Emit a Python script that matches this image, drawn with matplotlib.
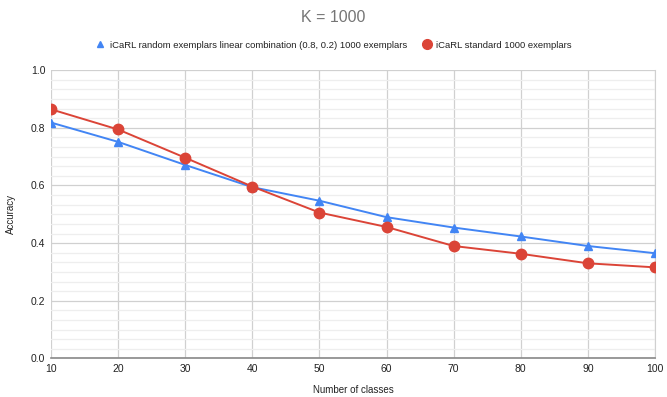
import matplotlib
matplotlib.use("Agg")
import matplotlib.pyplot as plt
from matplotlib.lines import Line2D
from matplotlib.ticker import MultipleLocator
import numpy as np

plt.rcParams['font.family'] = ['Liberation Sans', 'DejaVu Sans']

# Data
classes = [10, 20, 30, 40, 50, 60, 70, 80, 90, 100]
acc_random_lc = [0.818, 0.751, 0.671, 0.594, 0.547, 0.490, 0.454, 0.423, 0.390, 0.365]
acc_standard = [0.864, 0.794, 0.696, 0.596, 0.506, 0.456, 0.390, 0.363, 0.330, 0.316]

label_random = "iCaRL random exemplars linear combination (0.8, 0.2) 1000 exemplars"
label_standard = "iCaRL standard 1000 exemplars"

BLUE = "#4285F4"
RED = "#DB4437"

fig = plt.figure(figsize=(6.67, 3.97), dpi=100)
ax = fig.add_axes([0.0765, 0.097, 0.9055, 0.7265])

ax.plot(classes, acc_random_lc, color=BLUE, lw=1.4, marker='^', ms=5.5, zorder=3)
ax.plot(classes, acc_standard, color=RED, lw=1.4, marker='o', ms=7.5, zorder=4)

ax.set_xlim(10, 100)
ax.set_ylim(0, 1.0)
ax.xaxis.set_major_locator(MultipleLocator(10))
ax.yaxis.set_major_locator(MultipleLocator(0.2))
ax.yaxis.set_minor_locator(MultipleLocator(0.2 / 6))
ax.yaxis.set_major_formatter(matplotlib.ticker.FormatStrFormatter('%.1f'))

ax.grid(True, which='major', color='#d0d0d0', lw=0.9)
ax.grid(True, which='minor', axis='y', color='#eeeeee', lw=0.9)
ax.set_axisbelow(True)
for side in ['top', 'left']:
    ax.spines[side].set_visible(False)
ax.spines['right'].set_color('#d0d0d0')
ax.spines['bottom'].set_color('#888888')
ax.spines['bottom'].set_linewidth(1.2)
ax.tick_params(which='both', length=0, labelsize=7.5, colors='#222222', pad=4)

ax.set_xlabel("Number of classes", fontsize=7, color='#222222', labelpad=8)
ax.set_ylabel("Accuracy", fontsize=7, color='#222222', labelpad=11)

fig.text(0.5, 0.955, "K = 1000", ha='center', va='center', fontsize=11.5, color='#757575')

handles = [
    Line2D([], [], ls='none', marker='^', color=BLUE, ms=5),
    Line2D([], [], ls='none', marker='o', color=RED, ms=7),
]
fig.legend(handles, [label_random, label_standard], loc='center', bbox_to_anchor=(0.5, 0.886),
           ncol=2, frameon=False, fontsize=6.8, handlelength=1.0, handletextpad=0.5,
           columnspacing=1.6, labelcolor='#222222')

fig.savefig("out.png", dpi=100)
